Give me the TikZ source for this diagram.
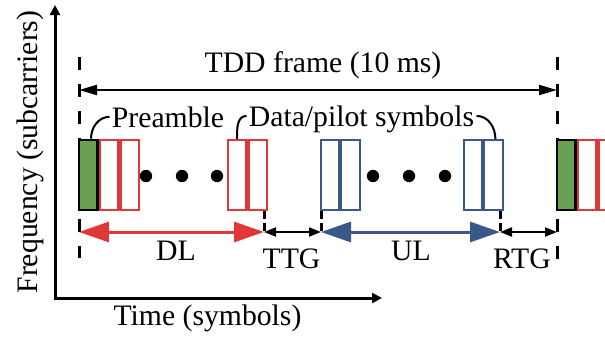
\documentclass[tikz,border=0pt]{standalone}
\usepackage{fontspec}
\setmainfont{Liberation Serif}
\usepackage{tikz}
\usetikzlibrary{arrows.meta, positioning, calc}
\definecolor{DLRed}{RGB}{224, 56, 56}
\definecolor{ULBlue}{RGB}{58, 88, 138}
\definecolor{PreGreen}{RGB}{106, 160, 83}
\tikzset{
  symbox/.style={draw=#1, line width=1.2pt, minimum width=9.2pt, minimum height=35pt, inner sep=0pt},
  prebox/.style={symbox=black, fill=PreGreen, line width=1.3pt},
  lbl/.style={inner sep=1pt, anchor=base},
  framedash/.style={line width=1.5pt, dash pattern=on 6.5pt off 7pt},
  tickdash/.style={line width=1.5pt, dash pattern=on 4pt off 2pt},
  leader/.style={line width=1pt},
  gaparrow/.style={line width=1pt, {Triangle[length=6pt,width=4.5pt]}-{Triangle[length=6pt,width=4.5pt]}},
  linkarrow/.style={line width=1.5pt, {Triangle[length=15pt,width=10pt]}-{Triangle[length=15pt,width=10pt]}}
}

\begin{document}
\begin{tikzpicture}[x=0.5pt, y=-0.5pt, font=\fontsize{14.85}{18}\selectfont]
  \clip (0,0) rectangle (605,338);

  % axes
  \coordinate (origin) at (55,298);
  \coordinate (ytop) at (55,5);
  \coordinate (xend) at (382,298);
  \draw[line width=1.5pt, {Triangle[length=5pt,width=5pt]}-{Triangle[length=5pt,width=5pt]}]
      (ytop) -- (origin) -- (xend);
  \node[rotate=90, lbl] (ylab) at (37,152) {Frequency (subcarriers)};
  \node[lbl] (xlab) at (207.5,325) {Time (symbols)};

  % frame boundaries
  \coordinate (f0top) at (79,57);
  \coordinate (f0bot) at (79,258);
  \coordinate (f1top) at (557,57);
  \coordinate (f1bot) at (557,262);
  \draw[framedash] (f0top) -- (f0bot);
  \draw[framedash] (f1top) -- (f1bot);

  % symbols
  \node[prebox] (pre1) at (88,175) {};
  \node[symbox=DLRed, right=0pt of pre1] (dl1a) {};
  \node[symbox=DLRed, right=0pt of dl1a] (dl1b) {};
  \node[symbox=DLRed] (dl2a) at (237,175) {};
  \node[symbox=DLRed, right=0pt of dl2a] (dl2b) {};
  \node[symbox=ULBlue, line width=1pt] (ul1a) at (330,175) {};
  \node[symbox=ULBlue, line width=1pt, right=0pt of ul1a] (ul1b) {};
  \node[symbox=ULBlue, line width=1pt] (ul2a) at (473,175) {};
  \node[symbox=ULBlue, line width=1pt, right=0pt of ul2a] (ul2b) {};
  \node[prebox] (pre2) at (566,175) {};
  \node[symbox=DLRed, right=0pt of pre2] (dl3a) {};
  \node[symbox=DLRed, right=0pt of dl3a] (dl3b) {};
  \foreach \x in {146,182,217,373,409,445}
    \fill (\x,176) circle (6.2);

  % frame length
  \coordinate (fa) at (79,90);
  \coordinate (fb) at (557,90);
  \draw[line width=1pt, {Triangle[length=9pt,width=5pt]}-{Triangle[length=9pt,width=5pt]}] (fa) -- (fb);
  \node[lbl] (framelab) at (323,72) {TDD frame (10 ms)};

  % labels with leaders
  \node[lbl] (prelab) at (168,127) {Preamble};
  \node[lbl] (datalab) at (361.5,126) {Data/pilot symbols};
  \draw[leader] ([xshift=1.5pt]pre1.north) to[out=90, in=180] (prelab.west);
  \draw[leader] (dl2a.north) to[out=90, in=180] ([yshift=1.5pt]datalab.west);
  \draw[leader] ([xshift=1pt]ul2b.north) to[out=90, in=0] ([yshift=1.5pt]datalab.east);

  % DL / TTG / UL / RTG
  \coordinate (t0) at (79,232);
  \coordinate (t1) at (264,232);
  \coordinate (t2) at (321,232);
  \coordinate (t3) at (500,232);
  \coordinate (t4) at (557,232);
  \draw[tickdash] (t1 |- dl2b.south) -- (t1);
  \draw[tickdash] (t2 |- ul1a.south) -- (t2);
  \draw[tickdash] (t3 |- ul2b.south) -- (t3);
  \draw[linkarrow, DLRed] (t0) -- (t1);
  \draw[gaparrow] (t1) -- (t2);
  \draw[linkarrow, ULBlue] (t2) -- (t3);
  \draw[gaparrow] (t3) -- (t4);
  \node[lbl] (dllab) at (176,260) {DL};
  \node[lbl] (ttglab) at (291.5,268) {TTG};
  \node[lbl] (ullab) at (411,260) {UL};
  \node[lbl] (rtglab) at (522,268) {RTG};
\end{tikzpicture}
\end{document}
